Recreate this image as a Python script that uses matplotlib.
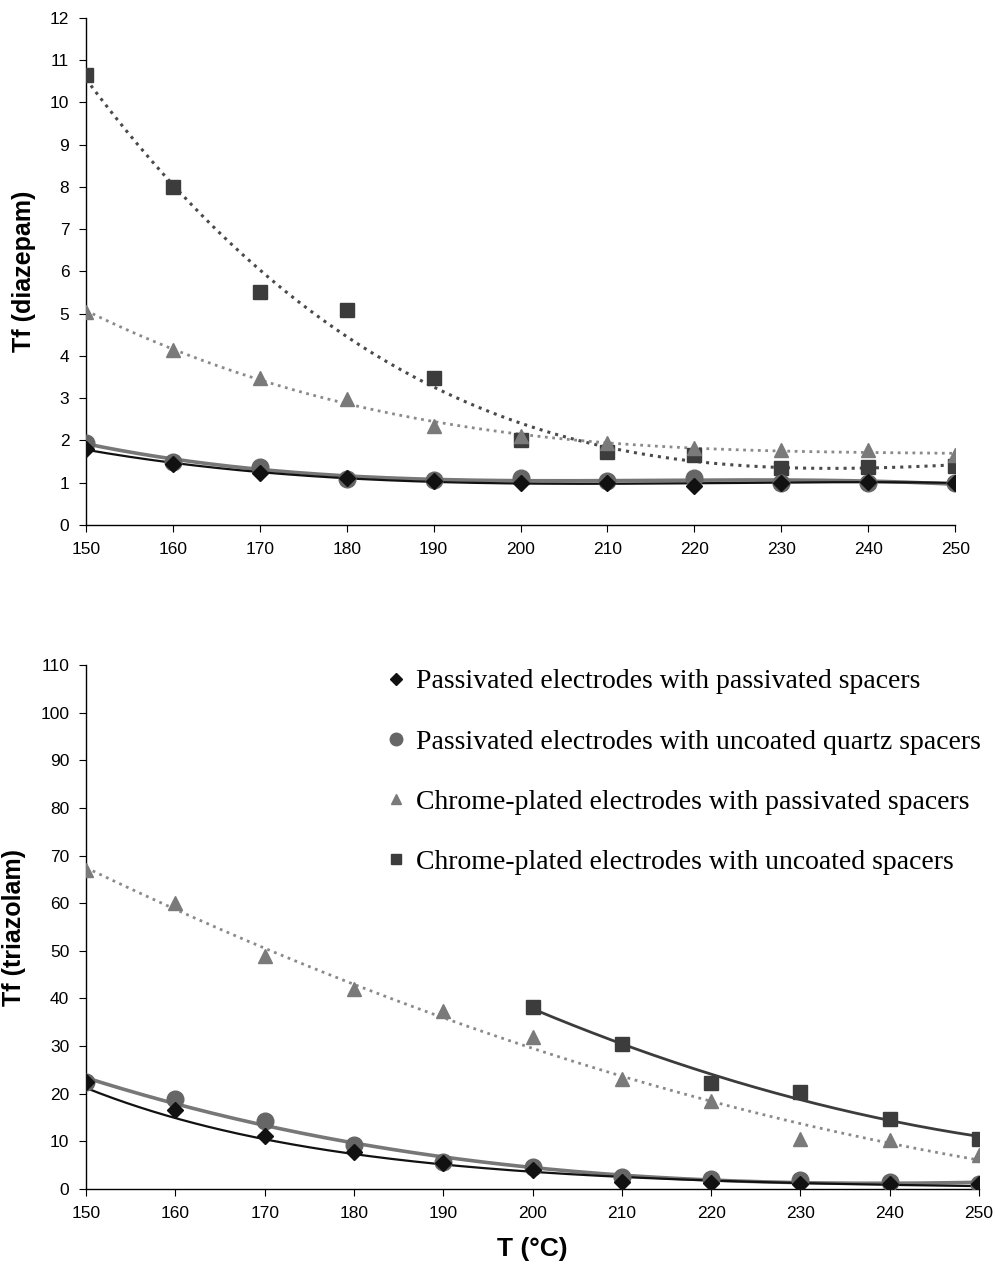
import matplotlib
matplotlib.use('Agg')
import matplotlib.pyplot as plt
import numpy as np

plt.rcParams['font.family'] = ['Liberation Sans', 'DejaVu Sans']

temps = np.array([150, 160, 170, 180, 190, 200, 210, 220, 230, 240, 250])

# diazepam
dz_pass_pass = [1.8, 1.45, 1.22, 1.1, 1.05, 1.0, 1.0, 0.93, 1.0, 1.02, 1.0]
dz_pass_quartz = [1.95, 1.5, 1.38, 1.08, 1.07, 1.12, 1.05, 1.1, 1.0, 1.0, 1.0]
dz_chrome_pass = [5.05, 4.15, 3.47, 2.98, 2.33, 2.1, 1.95, 1.82, 1.77, 1.77, 1.65]
dz_chrome_unc = [10.65, 8.0, 5.5, 5.08, 3.48, 2.02, 1.72, 1.65, 1.35, 1.38, 1.4]

# triazolam
tz_pass_pass = [22.5, 16.5, 11.2, 7.8, 5.5, 4.0, 1.5, 1.3, 1.0, 1.0, 1.0]
tz_pass_quartz = [22.5, 19.0, 14.2, 9.2, 5.7, 4.7, 2.5, 2.2, 1.8, 1.5, 1.0]
tz_chrome_pass = [67, 60, 49, 42, 37.3, 32, 23, 18.5, 10.5, 10.3, 7.1]
tz_unc_temps = np.array([200, 210, 220, 230, 240, 250])
tz_chrome_unc = [38.2, 30.5, 22.3, 20.4, 14.6, 10.6]

labels = ['Passivated electrodes with passivated spacers',
          'Passivated electrodes with uncoated quartz spacers',
          'Chrome-plated electrodes with passivated spacers',
          'Chrome-plated electrodes with uncoated spacers']

fig = plt.figure(figsize=(9.97, 12.71), dpi=100)
ax1 = fig.add_axes([0.0863, 0.587, 0.8717, 0.399])
ax2 = fig.add_axes([0.0863, 0.0645, 0.8957, 0.4123])


def series(ax, x, y, marker, ms, col, lcol, ls, lw, fit, label):
    # trend line like the spreadsheet ones: polynomial or exponential
    x = np.asarray(x, float)
    y = np.asarray(y, float)
    xs = np.linspace(x.min(), x.max(), 200)
    if fit == 'exp':
        c = np.polyfit(x, np.log(y), 1)
        ys = np.exp(np.polyval(c, xs))
    else:
        c = np.polyfit(x, y, fit)
        ys = np.polyval(c, xs)
    ax.plot(xs, ys, color=lcol, ls=ls, lw=lw, zorder=2)
    ax.plot(x, y, ls='none', marker=marker, ms=ms, color=col, mec=col,
            zorder=3, label=label)


series(ax1, temps, dz_chrome_unc, 's', 10, '#3c3c3c', '#4a4a4a', ':', 2.2, 3, labels[3])
series(ax1, temps, dz_chrome_pass, '^', 10, '#7a7a7a', '#8a8a8a', ':', 2.0, 3, labels[2])
series(ax1, temps, dz_pass_quartz, 'o', 12, '#666666', '#777777', '-', 2.6, 3, labels[1])
series(ax1, temps, dz_pass_pass, 'D', 8, '#111111', '#111111', '-', 1.6, 3, labels[0])

series(ax2, tz_unc_temps, tz_chrome_unc, 's', 10, '#3c3c3c', '#3c3c3c', '-', 2.0, 2, labels[3])
series(ax2, temps, tz_chrome_pass, '^', 10, '#7a7a7a', '#8a8a8a', ':', 2.0, 2, labels[2])
series(ax2, temps, tz_pass_quartz, 'o', 12, '#666666', '#777777', '-', 2.6, 3, labels[1])
series(ax2, temps, tz_pass_pass, 'D', 8, '#111111', '#111111', '-', 1.6, 'exp', labels[0])

for ax in (ax1, ax2):
    ax.set_xlim(150, 250)
    ax.set_xticks(range(150, 251, 10))
    for s in ('top', 'right'):
        ax.spines[s].set_visible(False)
    ax.tick_params(direction='out', length=5, labelsize=12.5, pad=7)
    ax.spines['left'].set_linewidth(1.0)
    ax.spines['bottom'].set_linewidth(1.0)

ax1.set_ylim(0, 12)
ax1.set_yticks(range(0, 13))
ax1.set_ylabel('Tf (diazepam)', fontsize=18, fontweight='bold', labelpad=10)

ax2.set_ylim(0, 110)
ax2.set_yticks(range(0, 111, 10))
ax2.set_ylabel('Tf (triazolam)', fontsize=18, fontweight='bold', labelpad=10)
ax2.set_xlabel('T (°C)', fontsize=19, fontweight='bold', labelpad=12)

h, l = ax2.get_legend_handles_labels()
order = [3, 2, 1, 0]
leg = ax2.legend([h[i] for i in order], [l[i] for i in order],
                 loc='upper left', bbox_to_anchor=(0.31, 1.04), frameon=False,
                 prop={'family': 'Liberation Serif', 'size': 20},
                 handlelength=0.6, handletextpad=0.4, labelspacing=1.25,
                 markerscale=0.75)

fig.savefig('out.png', dpi=100)
